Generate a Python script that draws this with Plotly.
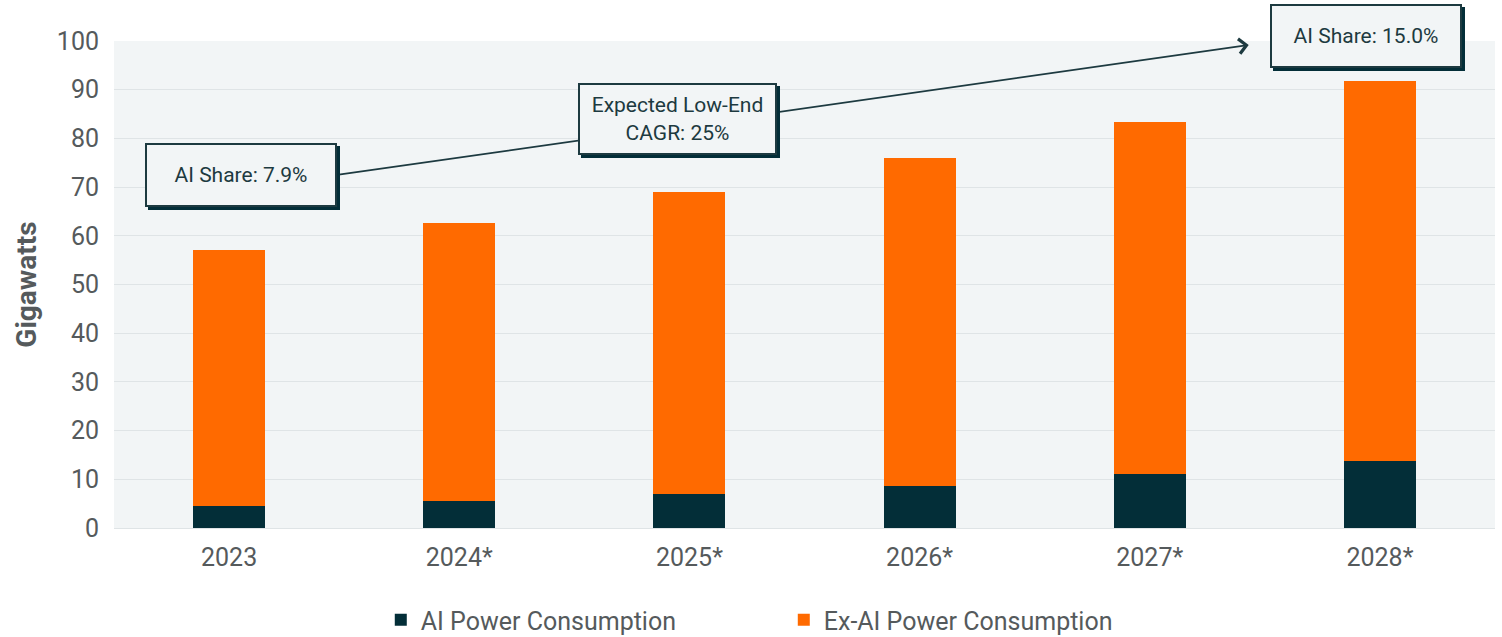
import plotly.graph_objects as go

years = ["2023", "2024*", "2025*", "2026*", "2027*", "2028*"]
ai_power = [4.5, 5.6, 7.0, 8.7, 11.0, 13.8]
ex_ai_power = [52.5, 57.1, 62.0, 67.3, 72.4, 78.0]
y_ticks = [0, 10, 20, 30, 40, 50, 60, 70, 80, 90, 100]

DARK = "#032e38"
ORANGE = "#ff6a00"
TEXT = "#555a5c"
BOXTEXT = "#1d3a40"
BG = "#f2f5f6"
FONT = "Roboto, sans-serif"

fig = go.Figure()
fig.add_trace(go.Bar(x=years, y=ai_power, name="AI Power Consumption",
                     marker=dict(color=DARK, line=dict(width=0))))
fig.add_trace(go.Bar(x=years, y=ex_ai_power, name="Ex-AI Power Consumption",
                     marker=dict(color=ORANGE, line=dict(width=0))))

# Arrow line from first box to last box
fig.add_annotation(x=4.43, y=99.2, ax=0.47, ay=72.5, xref="x", yref="y",
                   axref="x", ayref="y", text="", showarrow=True,
                   arrowhead=4, arrowsize=1.6, arrowwidth=1.8, arrowcolor=BOXTEXT)

boxes = [
    (0.05, "y", 72.5, "AI Share: 7.9%", 186, 58),
    (1.95, "y", 84.0, "Expected Low-End<br>CAGR: 25%", 193, 66),
    (4.94, "paper", 1.01, "AI Share: 15.0%", 186, 58),
]
for bx, yr, by, txt, w, h in boxes:
    # shadow
    fig.add_annotation(x=bx, y=by, xref="x", yref=yr, text=txt, showarrow=False,
                       xanchor="center", yanchor="middle",
                       font=dict(family=FONT, size=21, color=DARK),
                       bgcolor=DARK, bordercolor=DARK, borderwidth=2,
                       width=w, height=h, xshift=3, yshift=-3)
    fig.add_annotation(x=bx, y=by, xref="x", yref=yr, text=txt, showarrow=False,
                       xanchor="center", yanchor="middle",
                       font=dict(family=FONT, size=21, color=BOXTEXT),
                       bgcolor=BG, bordercolor=BOXTEXT, borderwidth=2,
                       width=w, height=h)

fig.update_layout(
    barmode="stack",
    bargap=0.687,
    width=1502, height=637,
    margin=dict(l=114, r=7, t=41, b=109, autoexpand=False),
    paper_bgcolor="white",
    plot_bgcolor=BG,
    font=dict(family=FONT, color=TEXT, size=25),
    showlegend=True,
    legend=dict(orientation="h", x=0.485, xanchor="center", y=-0.189, yanchor="middle",
                font=dict(size=25, color=TEXT), entrywidth=358, entrywidthmode="pixels",
                traceorder="normal"),
    xaxis=dict(showgrid=False, tickfont=dict(size=25, color=TEXT), ticks="outside",
               ticklen=7, tickcolor="rgba(0,0,0,0)", showline=False),
    yaxis=dict(range=[0, 100], tickvals=y_ticks, showgrid=True, gridcolor="#dfe4e6",
               gridwidth=1, zeroline=True, zerolinecolor="#dfe4e6", zerolinewidth=1,
               tickfont=dict(size=25, color=TEXT), ticks="outside", ticklen=9,
               tickcolor="rgba(0,0,0,0)",
               title=dict(text="<b>Gigawatts</b>", font=dict(size=28, color=TEXT), standoff=12)),
)

fig.write_html("out.html")
